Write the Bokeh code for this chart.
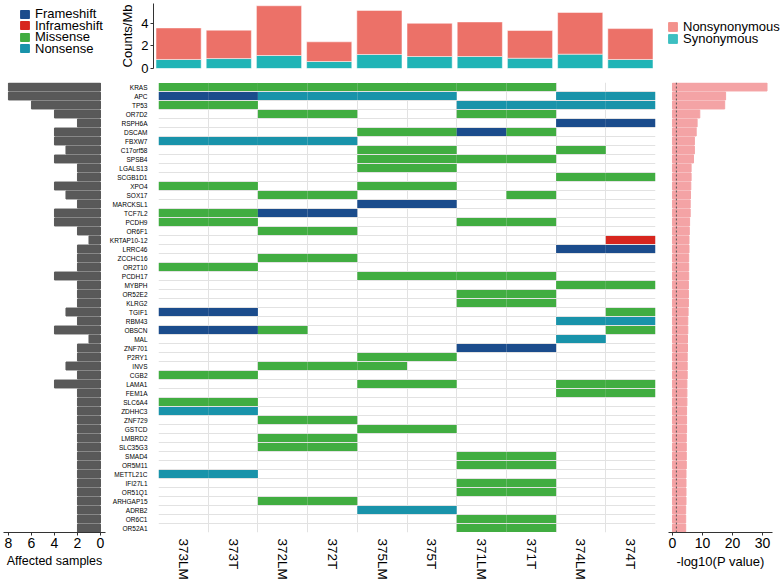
from bokeh.plotting import figure
from bokeh.models import Range1d, FixedTicker, Legend, LegendItem, Span, ColumnDataSource
from bokeh.layouts import row, column
from bokeh.embed import file_html
from bokeh.resources import INLINE

# ---------------- data ----------------
samples = ["373LM", "373T", "372LM", "372T", "375LM", "375T", "371LM", "371T", "374LM", "374T"]

genes = ["KRAS", "APC", "TP53", "OR7D2", "RSPH6A", "DSCAM", "FBXW7", "C17orf58", "SPSB4", "LGALS13",
         "SCGB1D1", "XPO4", "SOX17", "MARCKSL1", "TCF7L2", "PCDH9", "OR6F1", "KRTAP10-12", "LRRC46", "ZCCHC16",
         "OR2T10", "PCDH17", "MYBPH", "OR52E2", "KLRG2", "TGIF1", "RBM43", "OBSCN", "MAL", "ZNF701",
         "P2RY1", "INVS", "CGB2", "LAMA1", "FEM1A", "SLC6A4", "ZDHHC3", "ZNF729", "GSTCD", "LMBRD2",
         "SLC35G3", "SMAD4", "OR5M11", "METTL21C", "IFI27L1", "OR51Q1", "ARHGAP15", "ADRB2", "OR6C1", "OR52A1"]

# one string per gene, one character per sample: F=Frameshift, I=Inframeshift, M=Missense, N=Nonsense, .=none
calls = ["MMMMMMMM..", "FFNNNN..NN", "MM....NNNN", "..MM..MM..", "........FF",
         "....MMFM..", "NNNN......", "....MM..M.", "....MMMM..", "....MM....",
         "........MM", "MM..MM....", "..MM...M..", "....FF....", "MMFF......",
         "MM....MM..", "..MM......", ".........I", "........FF", "..MM......",
         "MM........", "....MMMM..", "........MM", "......MM..", "......MM..",
         "FF.......M", "........NN", "FFM......M", "........N.", "......FF..",
         "....MM....", "..MMM.....", "MM........", "....MM..MM", "........MM",
         "MM........", "NN........", "..MM......", "....MM....", "..MM......",
         "..MM......", "......MM..", "......MM..", "NN........", "......MM..",
         "......MM..", "..MM......", "....NN....", "......MM..", "......MM.."]

affected = [8, 8, 6, 4, 2, 4, 4, 3, 4, 2,
            2, 4, 3, 2, 4, 4, 2, 1, 2, 2,
            2, 4, 2, 2, 2, 3, 2, 4, 1, 2,
            2, 3, 2, 4, 2, 2, 2, 2, 2, 2,
            2, 2, 2, 2, 2, 2, 2, 2, 2, 2]

neglog10p = [31.5, 17.7, 17.4, 9.1, 8.2, 7.9, 7.3, 7.3, 7.0, 6.2,
             6.2, 6.1, 6.0, 5.9, 5.9, 5.7, 5.6, 5.5, 5.5, 5.4,
             5.4, 5.4, 5.3, 5.3, 5.3, 5.2, 5.1, 5.1, 5.0, 5.0,
             4.9, 4.9, 4.9, 4.8, 4.8, 4.8, 4.7, 4.7, 4.7, 4.6,
             4.6, 4.6, 4.6, 4.5, 4.5, 4.5, 4.5, 4.4, 4.4, 4.4]

synonymous = [0.80, 0.88, 1.15, 0.62, 1.24, 1.06, 1.06, 0.91, 1.27, 0.80]
nonsynonymous = [2.79, 2.51, 4.40, 1.74, 3.90, 2.94, 3.06, 2.45, 3.69, 2.73]

mut_types = ["Frameshift", "Inframeshift", "Missense", "Nonsense"]
mut_codes = ["F", "I", "M", "N"]
mut_colors = ["#1B4C8C", "#D7261E", "#41AD41", "#1993AA"]

burden_types = ["Nonsynonymous", "Synonymous"]
NONSYN = "#EC7168"
SYN = "#20B4B6"
LEG_NONSYN = "#F3918C"
LEG_SYN = "#3DBFC1"
P_COLOR = "#F4A3A5"
BAR_GRAY = "#595959"
FONT = "Liberation Sans"


def base_fig(width, height, x_range, y_range, mb, **kw):
    p = figure(width=width, height=height, x_range=x_range, y_range=y_range,
               toolbar_location=None, output_backend="svg",
               min_border_left=mb[0], min_border_right=mb[1],
               min_border_top=mb[2], min_border_bottom=mb[3], **kw)
    p.outline_line_color = None
    p.background_fill_color = "white"
    p.border_fill_color = "white"
    return p


def style_axis(ax, size="13px"):
    ax.major_label_text_font = FONT
    ax.major_label_text_font_size = size
    ax.major_label_text_color = "black"
    ax.axis_label_text_font = FONT
    ax.axis_label_text_font_size = "13px"
    ax.axis_label_text_font_style = "normal"
    ax.axis_label_text_color = "black"
    ax.axis_line_color = "#333333"
    ax.major_tick_line_color = "#333333"
    ax.major_tick_in = 0
    ax.major_tick_out = 3
    ax.minor_tick_line_color = None
    ax.major_label_standoff = 2
    ax.axis_label_standoff = 3


def add_single_legends(p, names, colors, x0, y0, dy, gw, gh):
    # one legend per entry so that the vertical pitch can be set exactly
    for k, (name, col) in enumerate(zip(names, colors)):
        r = p.rect(x=[-5], y=[-5], width=1, height=1, fill_color=col, line_color=col)
        p.add_layout(Legend(items=[LegendItem(label=name, renderers=[r])],
                            location=(x0, y0 - k * dy), margin=0, padding=0,
                            glyph_width=gw, glyph_height=gh, label_height=gh,
                            label_standoff=5, label_text_font=FONT,
                            label_text_font_size="13px", label_text_color="black",
                            border_line_color=None, background_fill_alpha=0))


n_genes = len(genes)
n_samples = len(samples)
row_centers = [i + 0.5 for i in range(n_genes)]
col_centers = [j + 0.5 for j in range(n_samples)]

# ---------------- top-left legend ----------------
legL = base_fig(110, 82, Range1d(0, 1), Range1d(0, 1), (0, 0, 0, 0),
                x_axis_location=None, y_axis_location=None)
legL.grid.visible = False
add_single_legends(legL, mut_types, mut_colors, 19, 47, 11.6, 11, 10)

# ---------------- top bars (Counts/Mb) ----------------
top = base_fig(550, 82, Range1d(0, n_samples), Range1d(0, 5.75), (43, 5, 3, 14),
               x_axis_location=None)
top.grid.visible = False
src = ColumnDataSource(dict(x=col_centers, Synonymous=synonymous, Nonsynonymous=nonsynonymous))
top.vbar_stack(["Synonymous", "Nonsynonymous"], x="x", width=0.9, color=[SYN, NONSYN],
               source=src, line_color="white", line_width=0.5)
top.yaxis.ticker = FixedTicker(ticks=[0, 2, 4])
top.yaxis.axis_label = "Counts/Mb"
style_axis(top.yaxis[0])

# ---------------- top-right legend ----------------
legR = base_fig(124, 82, Range1d(0, 1), Range1d(0, 1), (0, 0, 0, 0),
                x_axis_location=None, y_axis_location=None)
legR.grid.visible = False
add_single_legends(legR, burden_types, [LEG_NONSYN, LEG_SYN], 7, 34, 12.3, 11, 11)

# ---------------- middle: affected samples ----------------
yr = Range1d(n_genes, 0)
left = base_fig(106, 500, Range1d(8.43, -0.435), yr, (3, 1, 0, 47), y_axis_location=None)
left.grid.visible = False
left.hbar(y=row_centers, left=0, right=affected, height=0.88, color=BAR_GRAY)
left.xaxis.ticker = FixedTicker(ticks=[0, 2, 4, 6, 8])
left.xaxis.axis_label = "Affected samples"
style_axis(left.xaxis[0], "14px")
left.xaxis.axis_label_text_font_size = "12.5px"

# ---------------- heatmap ----------------
heat = base_fig(554, 500, Range1d(0, n_samples), yr, (47, 5, 0, 47))
xs, ys, cs = [], [], []
for i, s in enumerate(calls):
    for j, c in enumerate(s):
        if c in mut_codes:
            xs.append(col_centers[j])
            ys.append(row_centers[i])
            cs.append(mut_colors[mut_codes.index(c)])
heat.rect(x=xs, y=ys, width=1, height=0.88, fill_color=cs, line_color=None)
heat.xgrid.ticker = FixedTicker(ticks=list(range(n_samples + 1)))
heat.ygrid.ticker = FixedTicker(ticks=list(range(n_genes + 1)))
heat.grid.grid_line_color = "#E2E2E2"
heat.grid.grid_line_width = 1

heat.xaxis.ticker = FixedTicker(ticks=col_centers)
heat.xaxis.major_label_overrides = {c: s for c, s in zip(col_centers, samples)}
heat.xaxis.major_label_orientation = "vertical"
style_axis(heat.xaxis[0], "13.5px")
heat.xaxis.axis_line_color = None
heat.xaxis.major_tick_line_color = None
heat.xaxis.major_label_standoff = 3

heat.yaxis.ticker = FixedTicker(ticks=row_centers)
heat.yaxis.major_label_overrides = {c: g for c, g in zip(row_centers, genes)}
style_axis(heat.yaxis[0], "6.5px")
heat.yaxis.axis_line_color = None
heat.yaxis.major_tick_line_color = None
heat.yaxis.major_label_standoff = 8

# ---------------- right: -log10(P) ----------------
right = base_fig(124, 500, Range1d(-1.33, 33.33), yr, (8, 12, 0, 47), y_axis_location=None)
right.grid.visible = False
right.hbar(y=row_centers, left=0, right=neglog10p, height=0.88, color=P_COLOR)
right.add_layout(Span(location=1.3, dimension="height", line_color="#555555",
                      line_dash="2 2", line_width=1))
right.xaxis.ticker = FixedTicker(ticks=[0, 10, 20, 30])
right.xaxis.axis_label = "-log10(P value)"
style_axis(right.xaxis[0], "14px")

layout = column(row(legL, top, legR), row(left, heat, right))

open("out.html", "w").write(file_html(layout, INLINE, "oncoplot"))
